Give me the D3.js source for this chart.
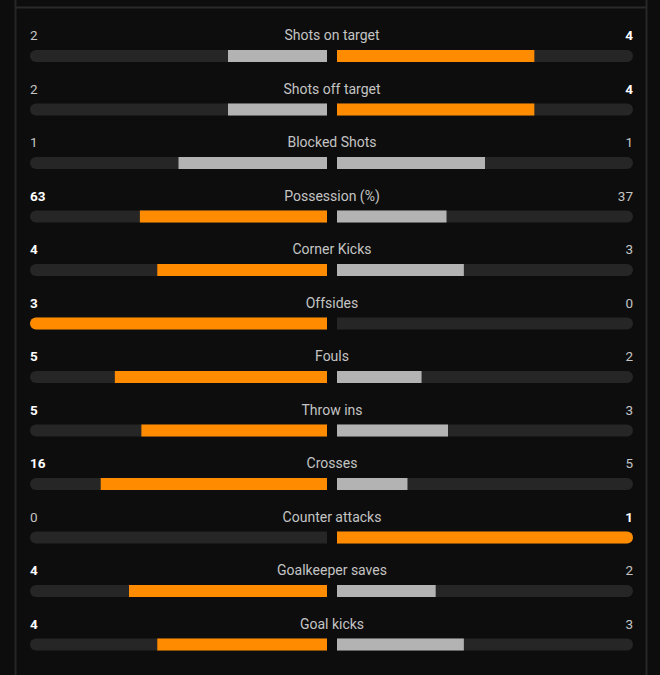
<!DOCTYPE html>
<html>
<head>
<meta charset="utf-8">
<script src="https://cdn.jsdelivr.net/npm/d3@7"></script>
<style>
html,body{margin:0;padding:0;background:#0d0d0d;}
svg{display:block;}
</style>
</head>
<body>
<svg id="chart" width="660" height="675"></svg>
<script>
const categories = ["Shots on target","Shots off target","Blocked Shots","Possession (%)","Corner Kicks","Offsides","Fouls","Throw ins","Crosses","Counter attacks","Goalkeeper saves","Goal kicks"];
const homeValues = [2,2,1,63,4,3,5,5,16,0,4,4];
const awayValues = [4,4,1,37,3,0,2,3,5,1,2,3];

const W = 660, H = 675;
const svg = d3.select("#chart");
svg.append("rect").attr("width",W).attr("height",H).attr("fill","#0d0d0d");

// panel borders
svg.append("line").attr("x1",15.5).attr("x2",15.5).attr("y1",0).attr("y2",H).attr("stroke","#262626").attr("stroke-width",2);
svg.append("line").attr("x1",646.5).attr("x2",646.5).attr("y1",0).attr("y2",H).attr("stroke","#262626").attr("stroke-width",2);
svg.append("line").attr("x1",15).attr("x2",647).attr("y1",7.5).attr("y2",7.5).attr("stroke","#2a2a2a").attr("stroke-width",2);

const leftX0 = 30, leftX1 = 327, rightX0 = 337, rightX1 = 633;
const barH = 12;
const y = d3.scalePoint().domain(categories).range([40, 40 + 53.5*11]);

const ORANGE = "#ff8c00", GRAY = "#b3b3b3", TRACK = "#262626";
const font = "Roboto, 'Noto Sans', sans-serif";

function roundedLeft(x0, x1, top, h, r){
  return `M${x1},${top} L${x0+r},${top} A${r},${r} 0 0 0 ${x0},${top+r} L${x0},${top+h-r} A${r},${r} 0 0 0 ${x0+r},${top+h} L${x1},${top+h} Z`;
}
function roundedRight(x0, x1, top, h, r){
  return `M${x0},${top} L${x1-r},${top} A${r},${r} 0 0 1 ${x1},${top+r} L${x1},${top+h-r} A${r},${r} 0 0 1 ${x1-r},${top+h} L${x0},${top+h} Z`;
}

categories.forEach((cat, i) => {
  const h = homeValues[i], a = awayValues[i];
  const total = h + a;
  const base = y(cat);
  const top = base + 10;
  const g = svg.append("g");

  const lScale = d3.scaleLinear().domain([0, total || 1]).range([0, leftX1 - leftX0]);
  const rScale = d3.scaleLinear().domain([0, total || 1]).range([0, rightX1 - rightX0]);

  g.append("path").attr("d", roundedLeft(leftX0, leftX1, top, barH, barH/2)).attr("fill", TRACK);
  g.append("path").attr("d", roundedRight(rightX0, rightX1, top, barH, barH/2)).attr("fill", TRACK);

  const homeColor = h > a ? ORANGE : GRAY;
  const awayColor = a > h ? ORANGE : GRAY;

  const lw = lScale(h);
  if (lw > 0) {
    const x0 = leftX1 - lw;
    if (x0 <= leftX0 + 0.5) g.append("path").attr("d", roundedLeft(leftX0, leftX1, top, barH, barH/2)).attr("fill", homeColor);
    else g.append("rect").attr("x", x0).attr("y", top).attr("width", lw).attr("height", barH).attr("fill", homeColor);
  }
  const rw = rScale(a);
  if (rw > 0) {
    const x1 = rightX0 + rw;
    if (x1 >= rightX1 - 0.5) g.append("path").attr("d", roundedRight(rightX0, rightX1, top, barH, barH/2)).attr("fill", awayColor);
    else g.append("rect").attr("x", rightX0).attr("y", top).attr("width", rw).attr("height", barH).attr("fill", awayColor);
  }

  g.append("text").attr("x", 332).attr("y", base).attr("text-anchor","middle")
    .attr("font-family", font).attr("font-size", 14).attr("fill", "#c4c4c4").text(cat);
  g.append("text").attr("x", leftX0).attr("y", base).attr("text-anchor","start")
    .attr("font-family", font).attr("font-size", 13.5)
    .attr("font-weight", h > a ? 700 : 400)
    .attr("fill", h > a ? "#ffffff" : "#c4c4c4").text(h);
  g.append("text").attr("x", rightX1).attr("y", base).attr("text-anchor","end")
    .attr("font-family", font).attr("font-size", 13.5)
    .attr("font-weight", a > h ? 700 : 400)
    .attr("fill", a > h ? "#ffffff" : "#c4c4c4").text(a);
});
</script>
</body>
</html>
